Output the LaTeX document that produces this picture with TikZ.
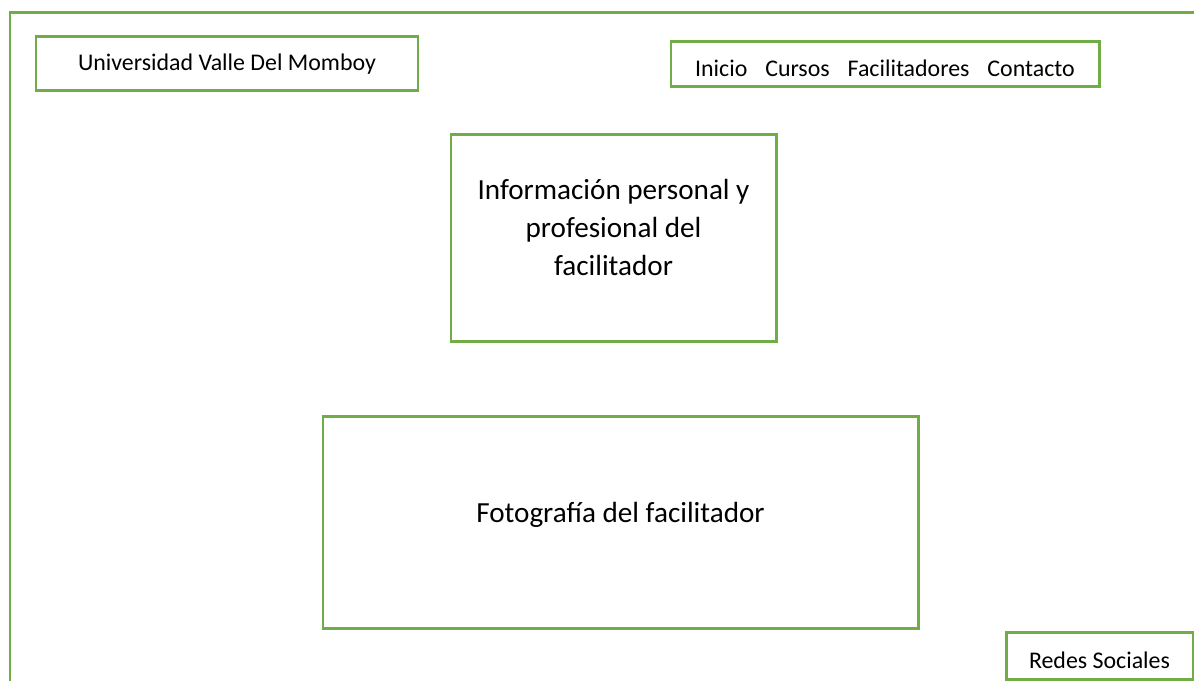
\documentclass[tikz,border=0pt]{standalone}
\usepackage{fontspec}
\setmainfont{Carlito}
\definecolor{verde}{HTML}{70AD47}
\tikzset{
  caja/.style={draw=verde, line width=1.7pt, inner sep=0pt, align=center},
  chico/.style={font=\fontsize{13.6}{16}\selectfont},
  grande/.style={font=\fontsize{16.6}{21.6}\selectfont}
}
\newcommand{\hueco}{\hspace{0.75em}}
\begin{document}
\begin{tikzpicture}[x=0.02cm,y=-0.02cm]
\useasboundingbox (0,0) rectangle (1194,681);
% marco de la pagina
\draw[verde, line width=1.7pt] (10,681) -- (10,12) -- (1194,12);
% cabecera
\node (univ) [caja,chico,minimum width=382*0.02cm,minimum height=54*0.02cm,text height=12pt,text depth=3.3pt] at (227,63) {Universidad Valle Del Momboy};
\node (menu) [caja,chico,minimum width=428*0.02cm,minimum height=45*0.02cm,text height=14.6pt,text depth=0pt] at (885,63.5) {Inicio\hueco Cursos\hueco Facilitadores\hueco Contacto};
% contenido
\node (info) [caja,grande,minimum width=325*0.02cm,minimum height=207*0.02cm,text depth=12pt] at (613.5,237.5) {Información personal y\\profesional del\\facilitador};
\node (foto) [caja,grande,minimum width=595*0.02cm,minimum height=212*0.02cm,text height=11.6pt,text depth=11.6pt] at (620.5,522) {Fotografía del facilitador};
% pie
\node (redes) [caja,chico,minimum width=187*0.02cm,minimum height=47*0.02cm,text height=14pt,text depth=0pt] at (1099.5,656) {Redes Sociales};
\end{tikzpicture}
\end{document}
